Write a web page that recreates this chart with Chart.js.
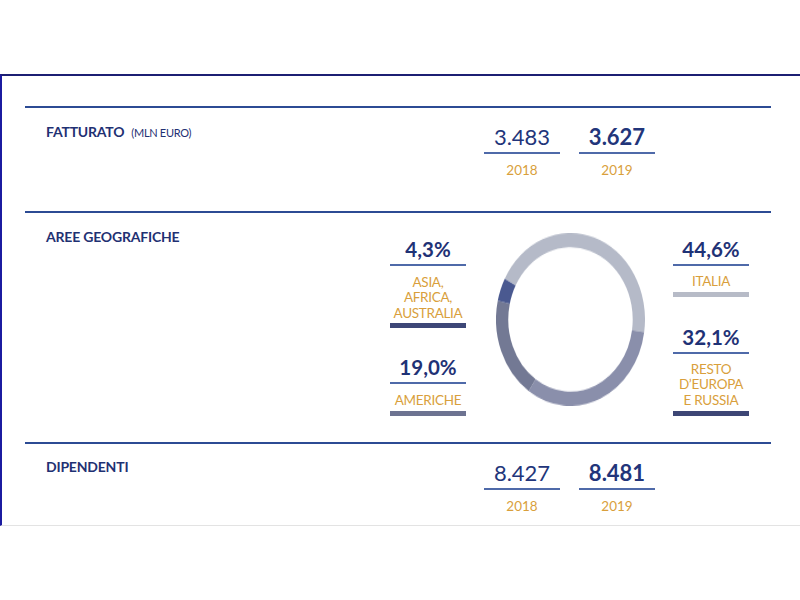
<!DOCTYPE html>
<html>
<head>
<meta charset="utf-8">
<script src="https://cdn.jsdelivr.net/npm/chart.js@4.4.0/dist/chart.umd.min.js"></script>
<style>
  body { margin: 0; width: 800px; height: 600px; background: #fff; position: relative; overflow: hidden; font-family: Lato, "Open Sans", sans-serif; }
  .abs { position: absolute; white-space: nowrap; }
  .frame { position: absolute; left: 0; top: 74px; width: 798px; height: 449px; border-top: 2px solid #1c1f73; border-left: 2px solid #1b1ba0; border-bottom: 1px solid #e3e3e3; }
  .rule { position: absolute; left: 25px; width: 746px; height: 2px; background: #2c4b94; }
  .title { color: #1f3173; font-weight: 700; font-size: 14px; letter-spacing: -0.2px; }
  .title small { font-weight: 400; font-size: 11px; margin-left: 7px; letter-spacing: -0.3px; }
  .val { color: #22357a; font-size: 22px; }
  .val.b { font-weight: 700; }
  .year { color: #d99f3c; font-size: 13.5px; }
  .uline { position: absolute; height: 2px; background: #4f6aa9; }
  .pct { color: #1f3276; font-weight: 700; font-size: 20.5px; }
  .lab { color: #d99f3c; font-size: 13.5px; line-height: 15.5px; text-align: center; letter-spacing: -0.3px; }
  .bar { position: absolute; height: 5px; }
</style>
</head>
<body>
<div class="frame"></div>
<div class="abs" id="ring" style="left:496px;top:233px;width:149px;height:149px;transform:scaleY(1.16);transform-origin:top left;">
  <canvas id="myChart" width="149" height="149"></canvas>
</div>
<script>
// data
const years = ['2018', '2019'];
const revenue = [3483, 3627];
const employees = [8427, 8481];
const regions = ['ITALIA', 'RESTO D\u2019EUROPA E RUSSIA', 'AMERICHE', 'ASIA, AFRICA, AUSTRALIA'];
const regionLines = [['ITALIA'], ['RESTO', 'D\u2019EUROPA', 'E RUSSIA'], ['AMERICHE'], ['ASIA,', 'AFRICA,', 'AUSTRALIA']];
const shares = [44.6, 32.1, 19.0, 4.3];

const ringColors = ['#b5bac8', '#8a8fab', '#737994', '#4a5990'];
const barColors = ['#b7bbc7', '#3d4675', '#6d7391', '#3d4777'];

function fmtInt(n) {
    return String(n).replace(/\B(?=(\d{3})+(?!\d))/g, '.');
}
function fmtPct(n) {
    return n.toFixed(1).replace('.', ',') + '%';
}

function put(html, cls, x, y, align) {
    const d = document.createElement('div');
    d.className = 'abs ' + cls;
    d.innerHTML = html;
    d.style.left = x + 'px';
    d.style.top = y + 'px';
    d.style.transform = align === 'left' ? 'translateY(-50%)' : 'translate(-50%,-50%)';
    document.body.appendChild(d);
    return d;
}
function box(cls, x, y, w, color) {
    const d = document.createElement('div');
    d.className = cls;
    d.style.left = x + 'px';
    d.style.top = y + 'px';
    d.style.width = w + 'px';
    if (color) d.style.background = color;
    document.body.appendChild(d);
}

// rules
[106, 211, 442].forEach(y => box('rule', 25, y, 746));

// section titles
put('FATTURATO<small>(MLN EURO)</small>', 'title', 46, 131, 'left');
put('AREE GEOGRAFICHE', 'title', 46, 236, 'left');
put('DIPENDENTI', 'title', 46, 466, 'left');

// year columns
const colX = [522, 617];
function yearBlock(values, top) {
    values.forEach((v, i) => {
        put(fmtInt(v), 'val' + (i === 1 ? ' b' : ''), colX[i], top + 29);
        box('uline', colX[i] - 38, top + 45, 76);
        put(years[i], 'year', colX[i], top + 63);
    });
}
yearBlock(revenue, 107);
yearBlock(employees, 443);

// geographic blocks: [index, centerX, pctY, labelY, barY]
const geoLayout = [
    [0, 711, 249, 282, 294],
    [1, 711, 337, 369, 413],
    [2, 428, 367, 401, 413],
    [3, 428, 249, 282, 325]
];
geoLayout.forEach(([i, cx, py, ly, by]) => {
    put(fmtPct(shares[i]), 'pct', cx, py);
    box('uline', cx - 38, py + 15, 76);
    const lines = regionLines[i];
    put(lines.join('<br>'), 'lab', cx, ly + (lines.length - 1) * 15.5 / 2);
    box('bar', cx - 38, by - 2, 76, barColors[i]);
});

// doughnut
const ctx = document.getElementById('myChart');
new Chart(ctx, {
    type: 'doughnut',
    data: {
        labels: regions,
        datasets: [{
            data: shares,
            backgroundColor: ringColors,
            borderWidth: 0
        }]
    },
    options: {
        responsive: false,
        animation: false,
        cutout: '83.5%',
        rotation: -62,
        layout: { padding: 0 },
        plugins: {
            legend: { display: false },
            tooltip: { enabled: false }
        }
    }
});
</script>
</body>
</html>
